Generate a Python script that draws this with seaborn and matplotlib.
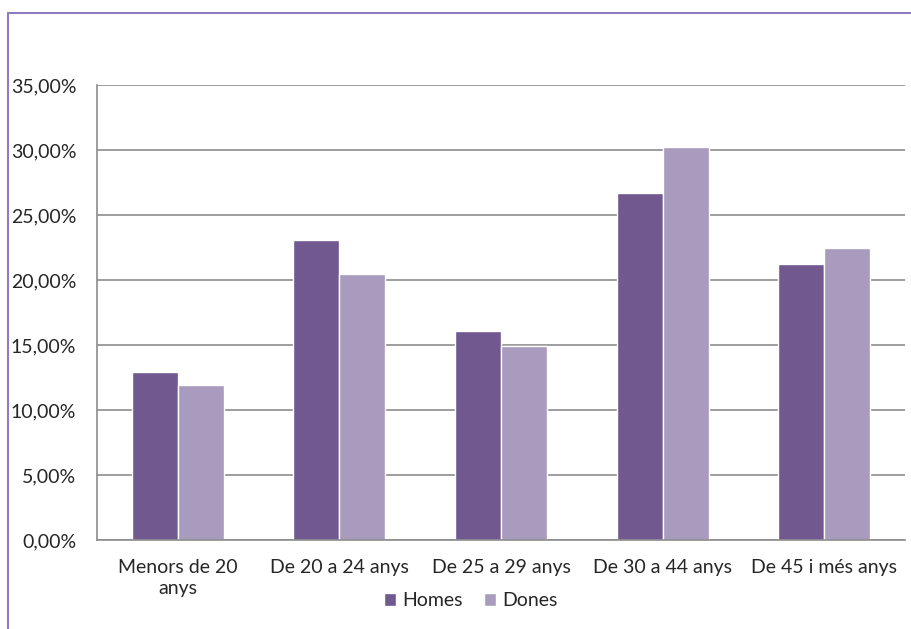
import matplotlib
matplotlib.use("Agg")
import matplotlib.pyplot as plt
import matplotlib.patches as mpatches
from matplotlib.ticker import FuncFormatter, FixedLocator
import seaborn as sns
import pandas as pd

categories = ["Menors de 20\nanys", "De 20 a 24 anys", "De 25 a 29 anys",
              "De 30 a 44 anys", "De 45 i més anys"]
homes = [12.9, 23.1, 16.1, 26.7, 21.2]
dones = [11.9, 20.45, 14.9, 30.2, 22.45]
series = ["Homes", "Dones"]
colors = ["#71588F", "#A99BBD"]

df = pd.DataFrame({
    "edat": categories * 2,
    "valor": homes + dones,
    "sexe": [series[0]] * len(categories) + [series[1]] * len(categories),
})

sns.set_style("white")
plt.rcParams["font.family"] = ["Lato", "DejaVu Sans"]

fig = plt.figure(figsize=(9.12, 6.29), dpi=100)
ax = fig.add_axes([97 / 912, 1 - 540 / 629, 808 / 912, 455 / 629])

sns.barplot(data=df, x="edat", y="valor", hue="sexe", palette=colors,
            width=0.57, ax=ax, saturation=1, legend=True)

ax.set_ylim(0, 35)
ax.set_xlim(-0.5, 4.5)
ax.yaxis.set_major_locator(FixedLocator([0, 5, 10, 15, 20, 25, 30, 35]))
ax.yaxis.set_major_formatter(FuncFormatter(lambda v, p: f"{v:.2f}%".replace(".", ",")))
ax.grid(axis="y", color="#8C8C8C", linewidth=1.2)
ax.set_axisbelow(True)
ax.set_xlabel("")
ax.set_ylabel("")

for s in ["top", "right"]:
    ax.spines[s].set_visible(False)
for s in ["left", "bottom"]:
    ax.spines[s].set_color("#8C8C8C")
    ax.spines[s].set_linewidth(1.2)

ax.tick_params(axis="y", direction="out", length=6, width=1.2, color="#8C8C8C",
               labelsize=14, pad=9)
ax.tick_params(axis="x", which="major", length=0, labelsize=14, pad=14)
ax.xaxis.set_minor_locator(FixedLocator([-0.5, 0.5, 1.5, 2.5, 3.5, 4.5]))
ax.tick_params(axis="x", which="minor", direction="out", length=6, width=1.2,
               color="#8C8C8C")
for lab in ax.get_xticklabels():
    lab.set_linespacing(1.25)

leg = ax.legend(loc="center", bbox_to_anchor=(471 / 912, 1 - 601 / 629),
                bbox_transform=fig.transFigure, ncol=2, frameon=False,
                fontsize=14, handlelength=0.6, handleheight=0.6,
                handletextpad=0.35, columnspacing=1.1)

# outer chart border, cut by the image edge
fig.patches.append(mpatches.Rectangle((8 / 912, -0.1), 1.2, 1 - 13 / 629 + 0.1,
                                      transform=fig.transFigure, fill=False,
                                      edgecolor="#8E7CC3", linewidth=1.5))

fig.savefig("out.png", dpi=100)
